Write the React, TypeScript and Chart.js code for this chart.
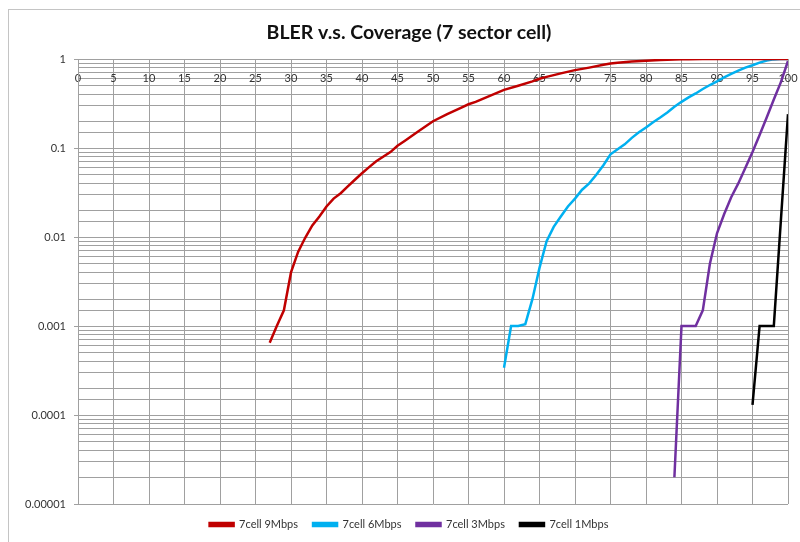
import React, { useEffect, useRef } from 'react';
import { Chart, registerables } from 'chart.js';

Chart.register(...registerables);

const chartTitle = 'BLER v.s. Coverage (7 sector cell)';
const seriesNames = ['7cell 9Mbps', '7cell 6Mbps', '7cell 3Mbps', '7cell 1Mbps'];
const seriesColors = ['#C00000', '#00B0F0', '#7030A0', '#000000'];

const red9X = [27, 28, 29, 30, 31, 32, 33, 34, 35, 36, 37, 38, 39, 40, 41, 42, 44, 45, 46, 48, 50, 52, 54, 55, 56, 58, 60, 62, 64, 65, 66, 68, 70, 72, 74, 75, 76, 78, 80, 82, 84, 85, 86, 88, 90, 95, 100];
const red9Y = [0.00065, 0.001, 0.0015, 0.004, 0.0068, 0.0098, 0.0135, 0.017, 0.022, 0.027, 0.031, 0.037, 0.044, 0.052, 0.061, 0.071, 0.09, 0.106, 0.12, 0.155, 0.2, 0.24, 0.285, 0.31, 0.33, 0.385, 0.45, 0.5, 0.56, 0.6, 0.63, 0.69, 0.75, 0.8, 0.86, 0.89, 0.91, 0.935, 0.957, 0.975, 0.988, 0.992, 0.996, 1, 1, 1, 1];

const cyan6X = [60, 61, 62, 63, 64, 65, 66, 67, 68, 69, 70, 71, 72, 73, 74, 75, 76, 77, 78, 79, 80, 81, 82, 83, 84, 85, 86, 87, 88, 89, 90, 91, 92, 93, 94, 95, 96, 97, 98, 99, 100];
const cyan6Y = [0.00034, 0.001, 0.001, 0.00105, 0.002, 0.0045, 0.009, 0.013, 0.017, 0.022, 0.027, 0.034, 0.04, 0.05, 0.064, 0.085, 0.097, 0.11, 0.13, 0.15, 0.17, 0.195, 0.22, 0.25, 0.29, 0.33, 0.37, 0.41, 0.46, 0.51, 0.56, 0.62, 0.68, 0.74, 0.8, 0.85, 0.91, 0.96, 0.99, 1, 1];

const purple3X = [84, 85, 86, 87, 88, 89, 90, 91, 92, 93, 94, 95, 96, 97, 98, 99, 100];
const purple3Y = [0.00002, 0.001, 0.001, 0.001, 0.0015, 0.005, 0.011, 0.018, 0.028, 0.04, 0.06, 0.09, 0.14, 0.22, 0.35, 0.55, 0.95];

const black1X = [95, 96, 97, 98, 100];
const black1Y = [0.00013, 0.001, 0.001, 0.001, 0.24];

const yMajorTicks = [0.00001, 0.0001, 0.001, 0.01, 0.1, 1];
const yTickLabels = ['0.00001', '0.0001', '0.001', '0.01', '0.1', '1'];
const xTickStep = 5;

const seriesX = [red9X, cyan6X, purple3X, black1X];
const seriesY = [red9Y, cyan6Y, purple3Y, black1Y];

const GRID = '#a0a0a0';
const TEXT = '#333333';
const FONT = 'Lato';

// shifts title and legend horizontally so they are centred on the whole chart frame
const centerShiftPlugin = {
  id: 'centerShift',
  afterLayout(chart: any) {
    const shift = 15;
    if (chart.legend) {
      chart.legend.left += shift;
      chart.legend.right += shift;
    }
    if (chart.titleBlock) {
      chart.titleBlock.left += shift;
      chart.titleBlock.right += shift;
    }
  },
};

export default function App() {
  const canvasRef = useRef<HTMLCanvasElement | null>(null);

  useEffect(() => {
    if (!canvasRef.current) return;
    const datasets = seriesNames.map((name, i) => ({
      label: name,
      data: seriesX[i].map((x, j) => ({ x, y: seriesY[i][j] })),
      borderColor: seriesColors[i],
      backgroundColor: seriesColors[i],
      borderWidth: 2.5,
      pointRadius: 0,
      showLine: true,
      tension: 0,
    }));

    const chart = new Chart(canvasRef.current, {
      type: 'scatter',
      data: { datasets },
      plugins: [centerShiftPlugin],
      options: {
        animation: false,
        responsive: false,
        maintainAspectRatio: false,
        layout: { padding: { left: 0, right: 12, top: 0, bottom: 2 } },
        plugins: {
          title: {
            display: true,
            text: chartTitle,
            color: '#111111',
            font: { family: FONT, size: 19.5, weight: 'bold' },
            padding: { top: 21.5, bottom: 14.1 },
          },
          legend: {
            position: 'bottom',
            labels: {
              boxWidth: 24,
              boxHeight: 3,
              padding: 15,
              color: TEXT,
              font: { family: FONT, size: 11 },
            },
          },
          tooltip: { enabled: false },
        },
        scales: {
          x: {
            type: 'linear',
            position: { y: 1 } as any,
            min: 0,
            max: 100,
            afterFit: (scale: any) => {
              scale.paddingLeft = 0;
              scale.paddingRight = 0;
            },
            ticks: {
              stepSize: xTickStep,
              color: TEXT,
              font: { family: FONT, size: 11 },
              padding: 9,
              maxRotation: 0,
              autoSkip: false,
            },
            grid: { color: GRID, lineWidth: 1, tickLength: 4, tickColor: GRID },
            border: { color: GRID },
          },
          y: {
            type: 'logarithmic',
            position: 'left',
            min: 0.00001,
            max: 1,
            afterFit: (scale: any) => {
              scale.width = 78;
            },
            ticks: {
              autoSkip: false,
              color: TEXT,
              font: { family: FONT, size: 11 },
              padding: 8,
              callback: (value: any) => {
                const v = Number(value);
                const idx = yMajorTicks.findIndex((m) => Math.abs(v - m) / m < 1e-6);
                return idx >= 0 ? yTickLabels[idx] : '';
              },
            },
            grid: {
              color: GRID,
              lineWidth: 1,
              tickLength: 4,
              tickColor: (ctx: any) => {
                const v = ctx.tick ? ctx.tick.value : 0;
                return yMajorTicks.some((m) => Math.abs(v - m) / m < 1e-6) ? GRID : 'rgba(0,0,0,0)';
              },
            },
            border: { color: GRID },
          },
        },
      },
    });
    return () => chart.destroy();
  }, []);

  return (
    <div style={{ position: 'fixed', left: 0, top: 0, width: 800, height: 542, overflow: 'hidden', background: '#ffffff' }}>
      <div style={{ position: 'absolute', left: 8, top: 9, width: 830, height: 580, border: '1px solid #c4c4c4', boxSizing: 'border-box' }} />
      <canvas ref={canvasRef} width={800} height={542} style={{ position: 'absolute', left: 0, top: 0, width: 800, height: 542 }} />
    </div>
  );
}
